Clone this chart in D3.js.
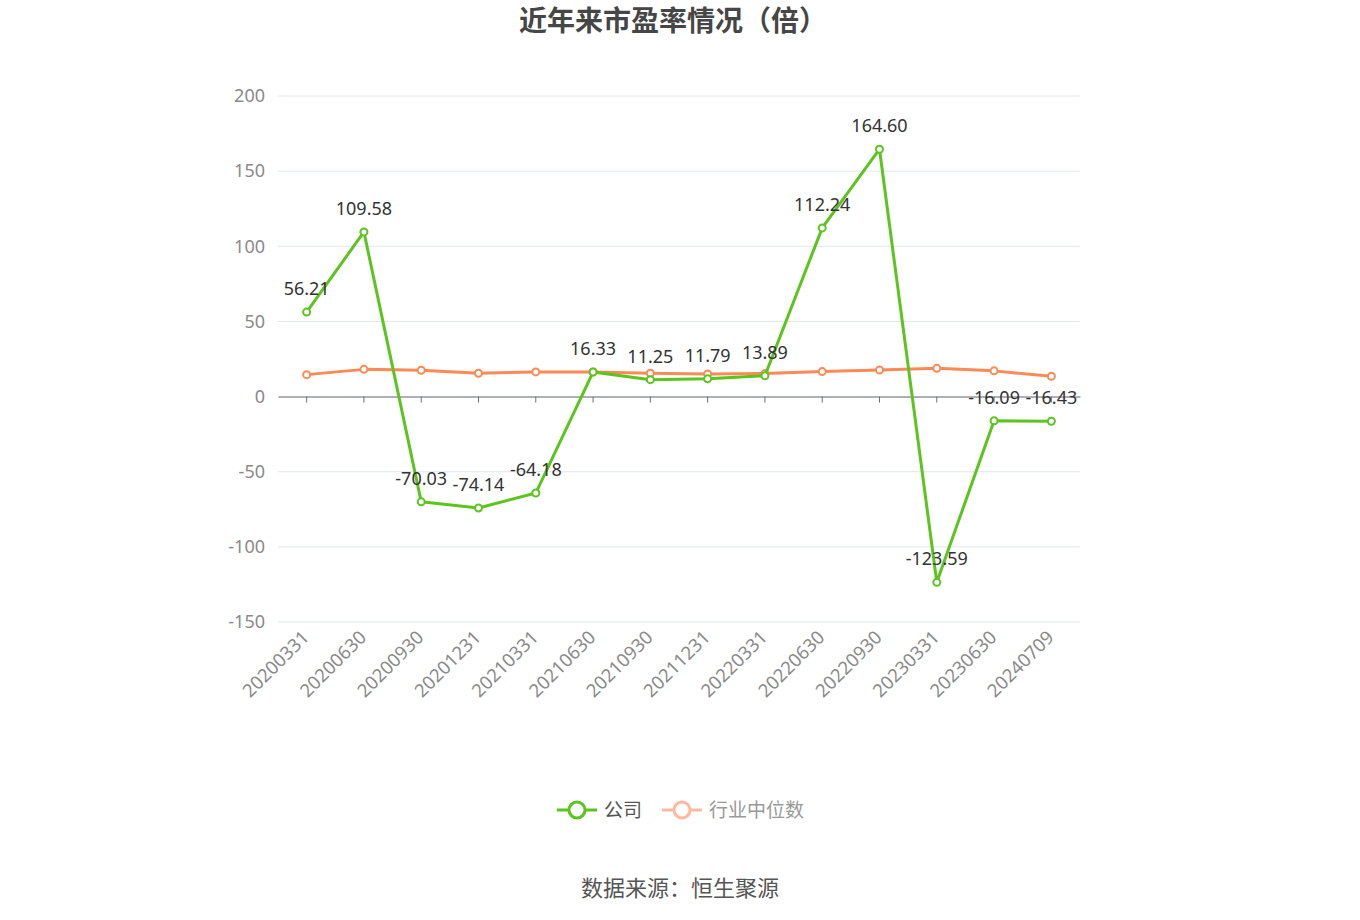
<!DOCTYPE html>
<html>
<head>
<meta charset="utf-8">
<script src="https://cdn.jsdelivr.net/npm/d3@7"></script>
<style>
  body { margin: 0; background: #fff; }
  text { font-family: "Noto Sans CJK SC", "Noto Sans", sans-serif; }
</style>
</head>
<body>
<svg id="chart" width="1360" height="920"></svg>
<script>
var dates = ["20200331", "20200630", "20200930", "20201231", "20210331", "20210630", "20210930",
             "20211231", "20220331", "20220630", "20220930", "20230331", "20230630", "20240709"];
var company = [56.21, 109.58, -70.03, -74.14, -64.18, 16.33, 11.25, 11.79, 13.89, 112.24, 164.60, -123.59, -16.09, -16.43];
var industry = [14.6, 18.1, 17.5, 15.5, 16.4, 16.4, 15.5, 15.1, 15.3, 16.6, 17.7, 18.8, 17.1, 13.5];
var yTicks = [-150, -100, -50, 0, 50, 100, 150, 200];

var green = "#5cc41e",
    orange = "#fb8a56";

var svg = d3.select("#chart");

var plotLeft = 278, plotRight = 1080, plotTop = 96, plotBottom = 622;

var x = d3.scaleBand().domain(dates).range([plotLeft, plotRight]);
var y = d3.scaleLinear().domain([-150, 200]).range([plotBottom, plotTop]);
function px(d, i) { return x(dates[i]) + x.bandwidth() / 2; }

// title
svg.append("text")
    .attr("x", 673).attr("y", 31)
    .attr("text-anchor", "middle")
    .style("font-size", "28px").style("font-weight", "bold")
    .attr("fill", "#464646")
    .text("近年来市盈率情况（倍）");

// grid
svg.append("g").selectAll("line")
    .data(yTicks)
  .enter().append("line")
    .attr("x1", plotLeft).attr("x2", plotRight)
    .attr("y1", function(d) { return y(d); })
    .attr("y2", function(d) { return y(d); })
    .attr("stroke", "#e0e6f1").attr("stroke-width", 1);

// y labels (plain hyphen like the original)
var yAxis = d3.axisLeft(y).tickValues(yTicks).tickSize(0).tickPadding(13)
    .tickFormat(function(d) { return String(d); });
svg.append("g")
    .attr("transform", "translate(" + plotLeft + ",0)")
    .call(yAxis)
    .call(function(g) { g.select(".domain").remove(); })
    .selectAll("text")
    .style("font-size", "18px")
    .style("font-family", "'Noto Sans', sans-serif")
    .attr("fill", "#8a8a8a");

// x axis at zero
var xAxis = d3.axisBottom(x).tickSize(6).tickPadding(8).tickSizeOuter(0);
var xg = svg.append("g")
    .attr("transform", "translate(0," + y(0) + ")")
    .call(xAxis);
xg.select(".domain").attr("stroke", "#6e7079");
xg.selectAll(".tick line").attr("stroke", "#6e7079");
xg.selectAll("text").remove();

// x labels at bottom, rotated
svg.append("g").selectAll("text")
    .data(dates)
  .enter().append("text")
    .attr("transform", function(d, i) {
        return "translate(" + (px(d, i) - 1) + "," + (plotBottom + 12) + ") rotate(-45)";
    })
    .attr("text-anchor", "end")
    .attr("dy", "0.35em")
    .style("font-size", "18.5px")
    .style("font-family", "'Noto Sans', sans-serif")
    .attr("fill", "#8a8a8a")
    .text(function(d) { return d; });

var line = d3.line()
    .x(function(d, i) { return px(d, i); })
    .y(function(d) { return y(d); });

function drawSeries(values, color) {
    var g = svg.append("g");
    g.append("path")
        .datum(values)
        .attr("d", line)
        .attr("fill", "none")
        .attr("stroke", color)
        .attr("stroke-width", 3)
        .attr("stroke-linejoin", "round");
    g.selectAll("circle")
        .data(values)
      .enter().append("circle")
        .attr("cx", function(d, i) { return px(d, i); })
        .attr("cy", function(d) { return y(d); })
        .attr("r", 3.5)
        .attr("fill", "#fff")
        .attr("stroke", color)
        .attr("stroke-width", 2);
    return g;
}

drawSeries(industry, orange);
drawSeries(company, green);

// value labels for company
svg.append("g").selectAll("text")
    .data(company)
  .enter().append("text")
    .attr("x", function(d, i) { return px(d, i); })
    .attr("y", function(d) { return y(d) - 17; })
    .attr("text-anchor", "middle")
    .style("font-size", "18px")
    .style("font-family", "'Noto Sans', sans-serif")
    .attr("fill", "#333")
    .text(function(d) { return d.toFixed(2); });

// legend
var legend = svg.append("g").attr("transform", "translate(0,810)");
var items = [
    {name: "公司", color: green, text: "#555", x: 557},
    {name: "行业中位数", color: "#ffb9a0", text: "#999", x: 662}
];
items.forEach(function(it) {
    legend.append("line")
        .attr("x1", it.x).attr("x2", it.x + 40)
        .attr("stroke", it.color).attr("stroke-width", 3);
    legend.append("circle")
        .attr("cx", it.x + 20).attr("r", 8)
        .attr("fill", "#fff")
        .attr("stroke", it.color).attr("stroke-width", 3);
    legend.append("text")
        .attr("x", it.x + 47).attr("dy", "0.35em")
        .style("font-size", "19px")
        .attr("fill", it.text)
        .text(it.name);
});

// source
svg.append("text")
    .attr("x", 680).attr("y", 888)
    .attr("dy", "0.35em")
    .attr("text-anchor", "middle")
    .style("font-size", "22px")
    .attr("fill", "#555")
    .text("数据来源：恒生聚源");
</script>
</body>
</html>
